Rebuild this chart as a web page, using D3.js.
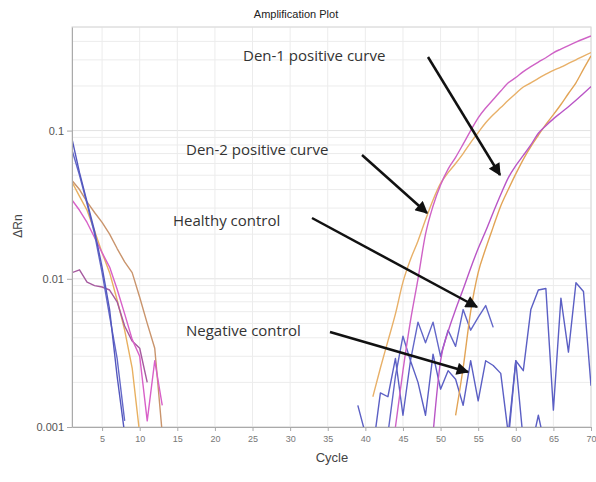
<!DOCTYPE html>
<html><head><meta charset="utf-8">
<script src="https://cdn.jsdelivr.net/npm/d3@7"></script>
<style>body{margin:0;background:#fff}svg{display:block}</style>
</head><body>
<script>
// ---- data ----
const xTicks = [5,10,15,20,25,30,35,40,45,50,55,60,65,70];
const yTicks = [0.1, 0.01, 0.001];
const yTickLabels = ["0.1","0.01","0.001"];

// early (baseline) part, cycles from 1
const earlyBlue1 = [0.088,0.052,0.033,0.021,0.012,0.0062,0.0022,0.0009];
const earlyBlue2 = [0.074,0.050,0.032,0.020,0.011,0.0056,0.0029,0.0011];
const earlyTan   = [0.046,0.040,0.033,0.028,0.024,0.020,0.016,0.013,0.011,0.0075,0.005,0.0034,0.0009];
const earlyOrange= [0.045,0.036,0.029,0.021,0.015,0.011,0.0072,0.0045,0.0025,0.0009];
const earlyPink  = [0.034,0.029,0.024,0.019,0.015,0.012,0.0085,0.0058,0.0039,0.003,0.0011,0.0028,0.0014];
const earlyPurple= [0.011,0.0115,0.0095,0.009,0.0088,0.0084,0.007,0.0048,0.0038,0.0034,0.002];

// amplification curves: start cycle and values
const ampMagentaA = {start:44, v:[0.001,0.0024,0.0052,0.010,0.020,0.031,0.043,0.055,0.066,0.081,0.100,0.122,0.142,0.162,0.185,0.21,0.228,0.25,0.27,0.29,0.31,0.335,0.355,0.375,0.395,0.415,0.435]};
const ampOrangeA  = {start:41, v:[0.0016,0.0025,0.0038,0.0058,0.0095,0.0135,0.018,0.025,0.034,0.044,0.052,0.060,0.07,0.083,0.097,0.113,0.128,0.143,0.16,0.178,0.197,0.21,0.225,0.24,0.255,0.268,0.284,0.3,0.318,0.336]};
const ampMagentaB = {start:49, v:[0.0009,0.0028,0.0044,0.0062,0.0085,0.0118,0.016,0.021,0.028,0.037,0.048,0.058,0.068,0.08,0.096,0.108,0.12,0.132,0.145,0.16,0.178,0.198]};
const ampOrangeB  = {start:52, v:[0.0012,0.0025,0.006,0.011,0.016,0.0224,0.031,0.040,0.051,0.064,0.078,0.093,0.11,0.128,0.15,0.178,0.21,0.26,0.32]};

// noisy late controls
const negControl = {start:39, v:[0.0014,0.0009,0.0007,0.0017,0.0016,0.0029,0.0012,0.0028,0.0020,0.0012,0.0031,0.0018,0.0024,0.0021,0.0014,0.0028,0.0015,0.0028,0.0026,0.0023,0.0009,0.0028,0.0008,0.0007,0.0012,0.0007]};
const healthyControl = {start:43, v:[0.0009,0.0022,0.0041,0.0028,0.0051,0.0037,0.0051,0.0030,0.0045,0.0035,0.0062,0.0045,0.0055,0.0066,0.0047]};
const lateBlue = {start:59, v:[0.0008,0.0028,0.0024,0.0062,0.0084,0.0086,0.0013,0.0074,0.0032,0.0094,0.0082,0.0019]};

const annotations = ["Den-1 positive curve","Den-2 positive curve","Healthy control","Negative control"];

// ---- layout ----
const W=596,H=482;
const L=72,R=591,T=27,B=427;
const svg=d3.select("body").append("svg").attr("width",W).attr("height",H);
const x=d3.scaleLinear().domain([1,70]).range([L,R]);
const y=d3.scaleLog().domain([0.001,0.5]).range([B,T]);

// grid
const minor=[];
[0.001,0.01,0.1].forEach(d=>{for(let k=2;k<=9;k++){const v=d*k;if(v<=0.5)minor.push(v);}});
svg.append("g").selectAll("line").data(minor).join("line")
  .attr("x1",L).attr("x2",R).attr("y1",d=>y(d)).attr("y2",d=>y(d))
  .attr("stroke","#ececec").attr("stroke-width",1);
svg.append("g").selectAll("line").data(yTicks).join("line")
  .attr("x1",L).attr("x2",R).attr("y1",d=>y(d)).attr("y2",d=>y(d))
  .attr("stroke","#e2e2e2").attr("stroke-width",1);
svg.append("g").selectAll("line").data(xTicks).join("line")
  .attr("x1",d=>x(d)).attr("x2",d=>x(d)).attr("y1",T).attr("y2",B)
  .attr("stroke","#ececec").attr("stroke-width",1);

// frame
svg.append("rect").attr("x",L).attr("y",T).attr("width",R-L).attr("height",B-T)
  .attr("fill","none").attr("stroke","#d8d8d8");

// clip
svg.append("clipPath").attr("id","clip").append("rect")
  .attr("x",L).attr("y",T).attr("width",R-L).attr("height",B-T);
const g=svg.append("g").attr("clip-path","url(#clip)");
const line=d3.line().x(d=>x(d[0])).y(d=>y(d[1]));
const smooth=d3.line().x(d=>x(d[0])).y(d=>y(d[1])).curve(d3.curveMonotoneX);
function series(start,vals){return vals.map((v,i)=>[start+i,v]);}
function draw(start,vals,color,gen){
  g.append("path").attr("d",(gen||line)(series(start,vals))).attr("fill","none")
   .attr("stroke",color).attr("stroke-width",1.4).attr("stroke-linejoin","round");
}
draw(1,earlyTan,"#c9946c");
draw(1,earlyOrange,"#e8b060");
draw(1,earlyPurple,"#a65a9f");
draw(1,earlyPink,"#d860c8");
draw(1,earlyBlue2,"#6468c8");
draw(1,earlyBlue1,"#5357be");

draw(negControl.start,negControl.v,"#5b5fc4");
draw(healthyControl.start,healthyControl.v,"#6266c8");
draw(lateBlue.start,lateBlue.v,"#5b5fc4");

draw(ampOrangeA.start,ampOrangeA.v,"#e8b068",smooth);
draw(ampMagentaA.start,ampMagentaA.v,"#cf62c6",smooth);
draw(ampOrangeB.start,ampOrangeB.v,"#e2a456",smooth);
draw(ampMagentaB.start,ampMagentaB.v,"#b955c6",smooth);

// axes
const ax=svg.append("g").attr("transform",`translate(0,${B})`)
  .call(d3.axisBottom(x).tickValues(xTicks).tickSize(4).tickSizeOuter(0));
ax.select(".domain").attr("stroke","#aaa");
ax.selectAll(".tick line").attr("stroke","#aaa");
ax.selectAll("text").attr("fill","#777").attr("font-size","9px").attr("font-family","Liberation Sans, Arial, sans-serif").attr("dy","0.9em");
const ay=svg.append("g").attr("transform",`translate(${L},0)`)
  .call(d3.axisLeft(y).tickValues(yTicks).tickFormat((d,i)=>yTickLabels[i]).tickSize(5).tickSizeOuter(0));
ay.select(".domain").attr("stroke","#aaa");
ay.selectAll(".tick line").attr("stroke","#aaa");
ay.selectAll("text").attr("fill","#555").attr("font-size","11px").attr("font-family","Liberation Sans, Arial, sans-serif");

// titles
svg.append("text").attr("x",296).attr("y",18).attr("text-anchor","middle")
  .attr("font-family","Liberation Sans, Arial, sans-serif").attr("font-size","11px").attr("fill","#222").text("Amplification Plot");
svg.append("text").attr("x",332).attr("y",462).attr("text-anchor","middle")
  .attr("font-family","Liberation Sans, Arial, sans-serif").attr("font-size","13px").attr("fill","#444").text("Cycle");
svg.append("text").attr("transform","translate(22,226) rotate(-90)").attr("text-anchor","middle")
  .attr("font-family","Liberation Sans, Arial, sans-serif").attr("font-size","12px").attr("fill","#444").text("ΔRn");

// annotations
const annPos=[[243,61],[186,155],[173,226],[186,336]];
svg.append("g").selectAll("text").data(annotations).join("text")
  .attr("x",(d,i)=>annPos[i][0]).attr("y",(d,i)=>annPos[i][1])
  .attr("font-family","Open Sans, sans-serif").attr("font-size","15px").attr("fill","#333").text(d=>d);

// arrows
const defs=svg.append("defs");
defs.append("marker").attr("id","ah").attr("viewBox","0 0 10 10").attr("refX",9).attr("refY",5)
  .attr("markerWidth",5.5).attr("markerHeight",5).attr("orient","auto").attr("markerUnits","strokeWidth")
  .append("path").attr("d","M0,0 L10,5 L0,10 z").attr("fill","#111");
const arrows=[[428,57,500,175],[362,155,427,213],[312,218,477,307],[330,332,468,372]];
svg.append("g").selectAll("line").data(arrows).join("line")
  .attr("x1",d=>d[0]).attr("y1",d=>d[1]).attr("x2",d=>d[2]).attr("y2",d=>d[3])
  .attr("stroke","#111").attr("stroke-width",2.5).attr("marker-end","url(#ah)");
</script>
</body></html>
